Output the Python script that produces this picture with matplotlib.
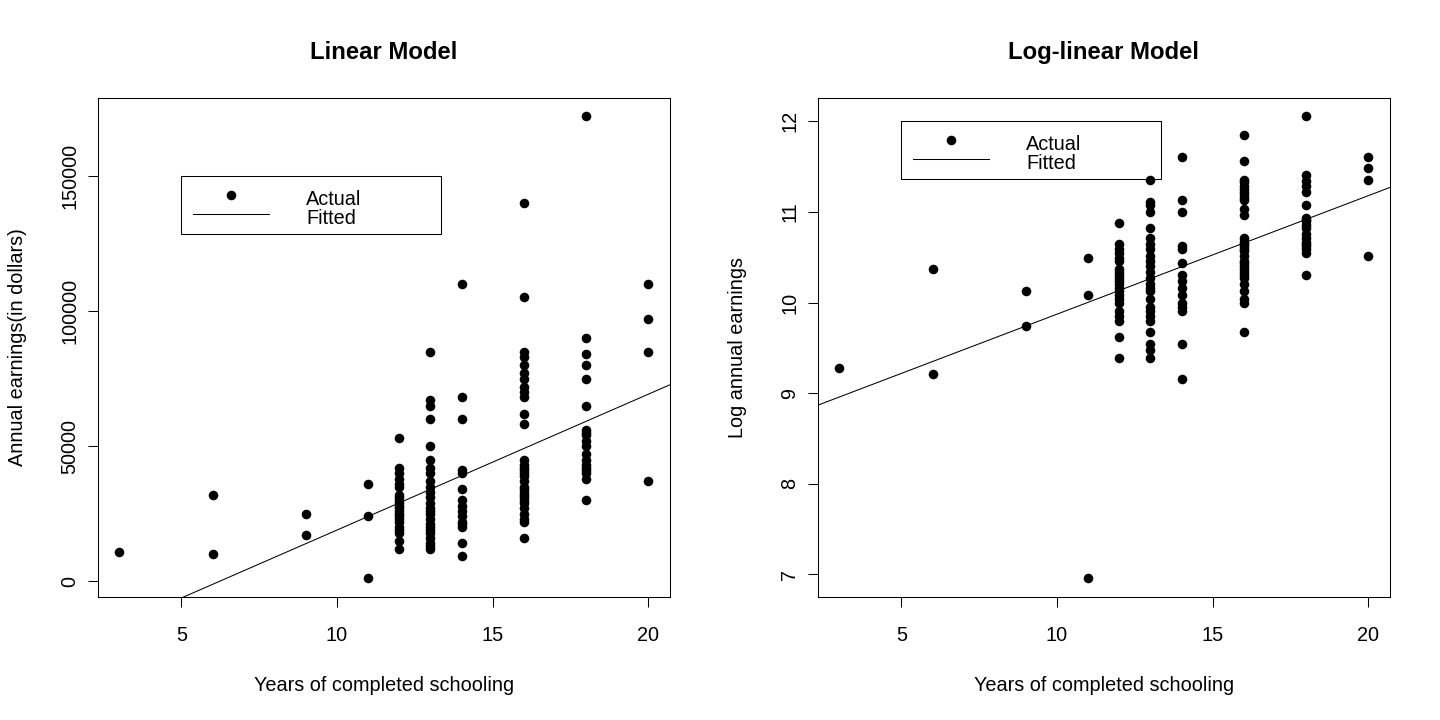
import numpy as np
import matplotlib
matplotlib.use('Agg')
import matplotlib.pyplot as plt
from matplotlib.patches import Rectangle

plt.rcParams['font.family'] = ['Liberation Sans', 'DejaVu Sans']

#%% data: earnings per person, grouped by years of schooling
earn_3 = [10700]
earn_6 = [32000, 10000]
earn_9 = [25000, 17000]
earn_11 = [36000, 24000, 1050]
earn_12 = [53000, 42000, 40000, 38000, 36000, 35000, 32000, 31000, 30000, 29000, 28000,
           27000, 26000, 25000, 24000, 23000, 22000, 20000, 19000, 18000, 15000, 12000]
earn_13 = [85000, 67000, 65000, 60000, 50000, 45000, 42000, 40000, 37000, 35000, 33000,
           31000, 29000, 27000, 26000, 25000, 23000, 21000, 20000, 19000, 18000, 16000,
           14000, 13000, 12000]
earn_14 = [110000, 68000, 60000, 41000, 40000, 34000, 30000, 28000, 26000, 24000, 22000,
           21000, 20000, 14000, 9500]
earn_16 = [140000, 105000, 85000, 83000, 80000, 77000, 75000, 72000, 70000, 68000, 62000,
           58000, 45000, 43000, 42000, 41000, 40000, 39000, 37000, 35000, 34000, 33000,
           32000, 31000, 30000, 29000, 27000, 25000, 23000, 22000, 16000]
earn_18 = [172000, 90000, 84000, 80000, 75000, 65000, 56000, 55000, 54000, 52000, 50000,
           47000, 45000, 43000, 42000, 41000, 40000, 38000, 30000]
earn_20 = [110000, 97000, 85000, 37000]

school_levels = [3, 6, 9, 11, 12, 13, 14, 16, 18, 20]
earn_groups = [earn_3, earn_6, earn_9, earn_11, earn_12, earn_13, earn_14, earn_16, earn_18, earn_20]

# fitted coefficients (intercept, slope)
lin_coef = [-31330, 5028]
log_coef = [8.565, 0.1308]

school = np.concatenate([[s] * len(g) for s, g in zip(school_levels, earn_groups)])
earnings = np.concatenate(earn_groups).astype(float)
log_earnings = np.log(earnings)

FS = 14.3  # base font size


def r_range(v):
    # R style axis range: data range extended by 4% on each side
    lo, hi = np.min(v), np.max(v)
    d = (hi - lo) * 0.04
    return lo - d, hi + d


def draw_panel(ax, y, coef, title, ylabel, yticks, legend_top):
    ax.plot(school, y, 'o', color='black', markersize=6.9, markeredgewidth=0, zorder=3)
    xl = r_range(school)
    yl = r_range(y)
    ax.set_xlim(xl)
    ax.set_ylim(yl)
    xx = np.array(xl)
    ax.plot(xx, coef[0] + coef[1] * xx, color='black', linewidth=0.75, zorder=2)

    ax.set_xticks([5, 10, 15, 20])
    ax.set_yticks(yticks)
    ax.set_yticklabels([str(t) for t in yticks], rotation=90, va='center')
    ax.tick_params(axis='both', direction='out', length=7, width=0.75, labelsize=FS)
    ax.tick_params(axis='x', pad=14)
    ax.tick_params(axis='y', pad=6.5)
    for sp in ax.spines.values():
        sp.set_linewidth(0.75)

    ax.set_xlabel('Years of completed schooling', fontsize=FS, labelpad=22)
    ax.set_ylabel(ylabel, fontsize=FS, labelpad=24)
    ax.set_title(title, fontsize=FS * 1.2, fontweight='bold', pad=28)

    # legend box drawn by hand, R style
    x0, x1 = 0.145, 0.601
    top = legend_top
    ax.add_patch(Rectangle((x0, top - 0.117), x1 - x0, 0.117, transform=ax.transAxes,
                           fill=False, edgecolor='black', linewidth=0.75, zorder=4))
    ax.plot([x0 + 0.0875], [top - 0.038], 'o', color='black', markersize=6.9,
            markeredgewidth=0, transform=ax.transAxes, zorder=5)
    ax.plot([x0 + 0.021, x0 + 0.154], [top - 0.076, top - 0.076], color='black',
            linewidth=0.75, transform=ax.transAxes, zorder=5)
    ax.text(x0 + 0.219, top - 0.047, 'Actual', transform=ax.transAxes, fontsize=FS,
            va='center', ha='left')
    ax.text(x0 + 0.219, top - 0.085, 'Fitted', transform=ax.transAxes, fontsize=FS,
            va='center', ha='left')


fig = plt.figure(figsize=(14.4, 7.2), dpi=100)
ax1 = fig.add_axes([0.068, 0.171, 0.397, 0.693])
ax2 = fig.add_axes([0.568, 0.171, 0.397, 0.693])

draw_panel(ax1, earnings, lin_coef, 'Linear Model', 'Annual earnings(in dollars)',
           [0, 50000, 100000, 150000], 0.844)
draw_panel(ax2, log_earnings, log_coef, 'Log-linear Model', 'Log annual earnings',
           [7, 8, 9, 10, 11, 12], 0.954)

plt.savefig('out.png', dpi=100)
